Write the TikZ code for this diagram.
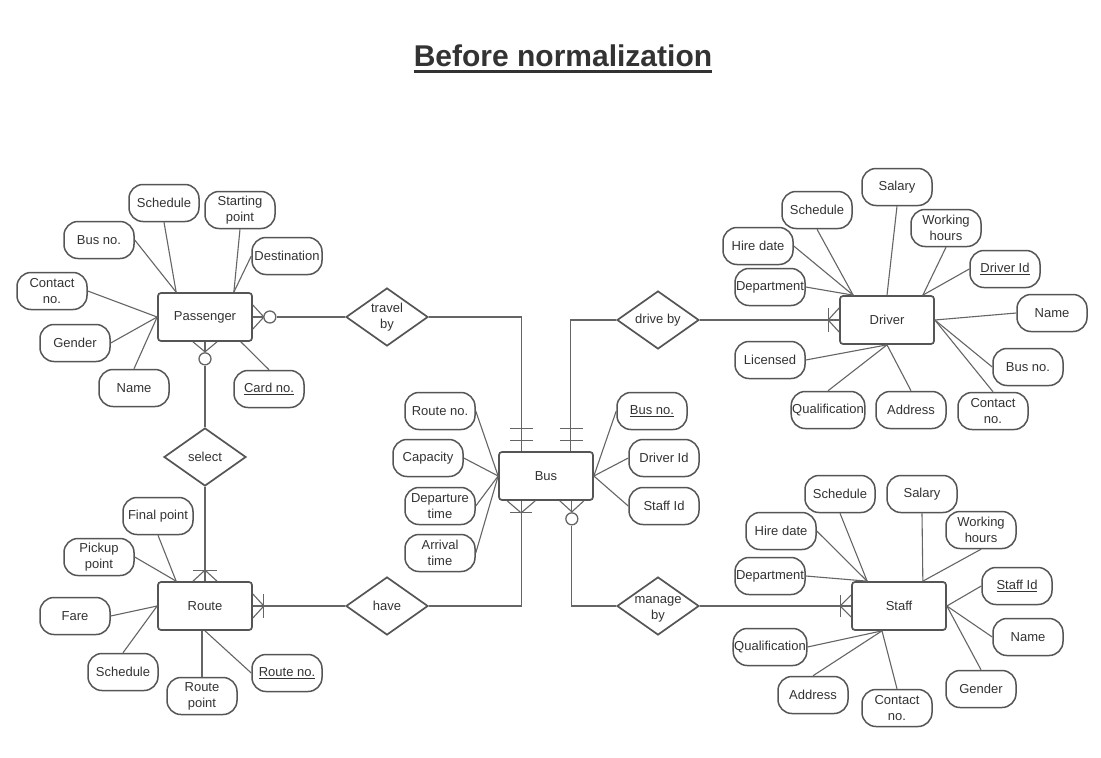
\documentclass[tikz,border=0pt]{standalone}
\usepackage{fontspec}
\setmainfont{Liberation Sans}
\usetikzlibrary{shapes.geometric,calc}
\definecolor{edge}{HTML}{555555}
\definecolor{wire}{HTML}{656565}
\definecolor{ink}{HTML}{333333}
\newcommand\ulbox[3]{\setbox0=\hbox{#3}\leavevmode\rlap{\rule[-#1]{\wd0}{#2}}\box0}
\newcommand\pk[1]{\ulbox{2.8pt}{0.9pt}{#1}}
\newcommand\headline[1]{\ulbox{6pt}{2.4pt}{#1}}
\begin{document}
\begin{tikzpicture}[
        x=1pt, y=-1pt,
        every node/.style={font=\fontsize{13}{16}\selectfont, text=ink},
        entity/.style={rectangle, draw=edge, line width=1.7pt, rounded corners=3pt, minimum width=94pt, minimum height=48pt},
        attrib/.style={rectangle, draw=edge, line width=1.5pt, rounded corners=14pt, minimum width=70pt, minimum height=37pt, inner sep=1pt, align=center},
        rel/.style={diamond, draw=edge, line width=1.7pt, aspect=1.41, minimum width=82pt, minimum height=58pt, inner sep=0pt},
        zero/.style={circle, draw=wire, line width=1.3pt, fill=white, minimum size=12pt, inner sep=0pt},
        link/.style={draw=wire, line width=1.1pt}
    ]
        \path[fill=white] (0,0) rectangle (1101,758);
        \useasboundingbox (0,0) rectangle (1101,758);

        \node[font=\bfseries\fontsize{30}{36}\selectfont] (title) at (563,59) {\headline{Before normalization}};

        % entities
        \node[entity] (pass) at (205,317) {Passenger};
        \node[entity] (route) at (205,606) {Route};
        \node[entity] (bus) at (546,476) {Bus};
        \node[entity] (driver) at (887,320) {Driver};
        \node[entity] (staff) at (899,606) {Staff};

        % relationships
        \node[rel, label={[align=center]center:travel\\by}] (travel) at (387,317) {};
        \node[rel, label={center:select}] (select) at (205,457) {};
        \node[rel, label={center:have}] (have) at (387,606) {};
        \node[rel, label={center:drive by}] (drive) at (658,320) {};
        \node[rel, label={[align=center, yshift=-3pt]center:manage\\by}] (manage) at (658,606) {};

        % passenger attributes
        \node[attrib] (pSched) at (164,203) {Schedule};
        \node[attrib] (pStart) at (240,210) {Starting\\point};
        \node[attrib] (pBus) at (99,240) {Bus no.};
        \node[attrib] (pDest) at (287,256) {Destination};
        \node[attrib] (pContact) at (52,291) {Contact\\no.};
        \node[attrib] (pGender) at (75,343) {Gender};
        \node[attrib] (pName) at (134,388) {Name};
        \node[attrib] (pCard) at (269,389) {\pk{Card no.}};

        % route attributes
        \node[attrib] (rFinal) at (158,516) {Final point};
        \node[attrib] (rPickup) at (99,557) {Pickup\\point};
        \node[attrib] (rFare) at (75,616) {Fare};
        \node[attrib] (rSched) at (123,672) {Schedule};
        \node[attrib] (rPoint) at (202,696) {Route\\point};
        \node[attrib] (rNo) at (287,673) {\pk{Route no.}};

        % bus attributes
        \node[attrib] (bRoute) at (440,411) {Route no.};
        \node[attrib] (bCap) at (428,458) {Capacity};
        \node[attrib] (bDep) at (440,506) {Departure\\time};
        \node[attrib] (bArr) at (440,553) {Arrival\\time};
        \node[attrib] (bNo) at (652,411) {\pk{Bus no.}};
        \node[attrib] (bDriver) at (664,458) {Driver Id};
        \node[attrib] (bStaff) at (664,506) {Staff Id};

        % driver attributes
        \node[attrib] (dSalary) at (897,187) {Salary};
        \node[attrib] (dSched) at (817,210) {Schedule};
        \node[attrib] (dWork) at (946,228) {Working\\hours};
        \node[attrib] (dHire) at (758,246) {Hire date};
        \node[attrib] (dId) at (1005,269) {\pk{Driver Id}};
        \node[attrib] (dDept) at (770,287) {Department};
        \node[attrib] (dName) at (1052,313) {Name};
        \node[attrib] (dLic) at (770,360) {Licensed};
        \node[attrib] (dBus) at (1028,367) {Bus no.};
        \node[attrib] (dQual) at (828,410) {Qualification};
        \node[attrib] (dAddr) at (911,410) {Address};
        \node[attrib] (dContact) at (993,411) {Contact\\no.};

        % staff attributes
        \node[attrib] (sSched) at (840,494) {Schedule};
        \node[attrib] (sSalary) at (922,494) {Salary};
        \node[attrib] (sHire) at (781,531) {Hire date};
        \node[attrib] (sWork) at (981,530) {Working\\hours};
        \node[attrib] (sDept) at (770,576) {Department};
        \node[attrib] (sId) at (1017,586) {\pk{Staff Id}};
        \node[attrib] (sName) at (1028,637) {Name};
        \node[attrib] (sQual) at (770,647) {Qualification};
        \node[attrib] (sGender) at (981,689) {Gender};
        \node[attrib] (sAddr) at (813,695) {Address};
        \node[attrib] (sContact) at (897,708) {Contact\\no.};

        % meeting points on the entities
        \coordinate (pTL) at ($(pass.north west)+(19,0)$);
        \coordinate (pTR) at ($(pass.north east)+(-19,0)$);
        \coordinate (pBR) at ($(pass.south east)+(-12,0)$);
        \coordinate (rTL) at ($(route.north west)+(19,0)$);
        \coordinate (bTL) at ($(bus.north west)+(23,0)$);
        \coordinate (bTR) at ($(bus.north east)+(-23,0)$);
        \coordinate (bBL) at ($(bus.south west)+(23,0)$);
        \coordinate (bBR) at ($(bus.south east)+(-22,0)$);
        \coordinate (dTL) at ($(driver.north west)+(14,0)$);
        \coordinate (dTR) at ($(driver.north east)+(-12,0)$);
        \coordinate (sTL) at ($(staff.north west)+(16,0)$);
        \coordinate (sTR) at ($(staff.north east)+(-24,0)$);
        \coordinate (sB) at ($(staff.south)+(-17,0)$);

        % attribute links
        \draw[link] (pSched.south) -- (pTL);
        \draw[link] (pBus.east) -- (pTL);
        \draw[link] (pStart.south) -- (pTR);
        \draw[link] (pDest.west) -- (pTR);
        \draw[link] (pContact.east) -- (pass.west);
        \draw[link] (pGender.east) -- (pass.west);
        \draw[link] (pName.north) -- (pass.west);
        \draw[link] (pCard.north) -- (pBR);

        \draw[link] (rFinal.south) -- (rTL);
        \draw[link] (rPickup.east) -- (rTL);
        \draw[link] (rFare.east) -- (route.west);
        \draw[link] (rSched.north) -- (route.west);
        \draw[link] (rPoint.north) -- (rPoint |- route.south);
        \draw[link] (rNo.west) -- (route.south);

        \draw[link] (bRoute.east) -- (bus.west);
        \draw[link] (bCap.east) -- (bus.west);
        \draw[link] (bDep.east) -- (bus.west);
        \draw[link] (bArr.east) -- (bus.west);
        \draw[link] (bNo.west) -- (bus.east);
        \draw[link] (bDriver.west) -- (bus.east);
        \draw[link] (bStaff.west) -- (bus.east);

        \draw[link] (dSched.south) -- (dTL);
        \draw[link] (dHire.east) -- (dTL);
        \draw[link] (dDept.east) -- (dTL);
        \draw[link] (dSalary.south) -- (driver.north);
        \draw[link] (dWork.south) -- (dTR);
        \draw[link] (dId.west) -- (dTR);
        \draw[link] (dName.west) -- (driver.east);
        \draw[link] (dBus.west) -- (driver.east);
        \draw[link] (dContact.north) -- (driver.east);
        \draw[link] (dLic.east) -- (driver.south);
        \draw[link] (dQual.north) -- (driver.south);
        \draw[link] (dAddr.north) -- (driver.south);

        \draw[link] (sSched.south) -- (sTL);
        \draw[link] (sHire.east) -- (sTL);
        \draw[link] (sDept.east) -- (sTL);
        \draw[link] (sSalary.south) -- (sTR);
        \draw[link] (sWork.south) -- (sTR);
        \draw[link] (sId.west) -- (staff.east);
        \draw[link] (sName.west) -- (staff.east);
        \draw[link] (sGender.north) -- (staff.east);
        \draw[link] (sQual.east) -- (sB);
        \draw[link] (sAddr.north) -- (sB);
        \draw[link] (sContact.north) -- (sB);

        % passenger - travel by - bus
        \draw[link] ($(pass.east)+(0,-12)$) -- ($(pass.east)+(11,0)$) -- ($(pass.east)+(0,12)$);
        \draw[link] (pass.east) -- ++(11,0);
        \node[zero] (pz1) at ($(pass.east)+(17,0)$) {};
        \draw[link] (pz1) -- (travel);
        \draw[link] (travel) -| (bTL);
        \draw[link] ($(bTL)+(-11,-11)$) -- ++(23,0);
        \draw[link] ($(bTL)+(-11,-23)$) -- ++(23,0);

        % passenger - select - route
        \draw[link] ($(pass.south)+(-12,0)$) -- ($(pass.south)+(0,10)$) -- ($(pass.south)+(12,0)$);
        \draw[link] (pass.south) -- ++(0,10);
        \node[zero] (pz2) at ($(pass.south)+(0,17)$) {};
        \draw[link] (pz2) -- (select);
        \draw[link] (select) -- (route);
        \draw[link] ($(route.north)+(-12,0)$) -- ($(route.north)+(0,-11)$) -- ($(route.north)+(12,0)$);
        \draw[link] ($(route.north)+(-12,-11)$) -- ($(route.north)+(12,-11)$);

        % route - have - bus
        \draw[link] (route) -- (have);
        \draw[link] ($(route.east)+(0,-12)$) -- ($(route.east)+(11,0)$) -- ($(route.east)+(0,12)$);
        \draw[link] ($(route.east)+(11,-12)$) -- ($(route.east)+(11,12)$);
        \draw[link] (have) -| (bBL);
        \draw[link] ($(bBL)+(-14,0)$) -- ($(bBL)+(0,12)$) -- ($(bBL)+(14,0)$);
        \draw[link] ($(bBL)+(-11,12)$) -- ($(bBL)+(11,12)$);

        % bus - drive by - driver
        \draw[link] (drive) -| (bTR);
        \draw[link] ($(bTR)+(-11,-11)$) -- ++(23,0);
        \draw[link] ($(bTR)+(-11,-23)$) -- ++(23,0);
        \draw[link] (drive) -- (driver);
        \draw[link] ($(driver.west)+(0,-12)$) -- ($(driver.west)+(-11,0)$) -- ($(driver.west)+(0,12)$);
        \draw[link] ($(driver.west)+(-11,-12)$) -- ($(driver.west)+(-11,12)$);

        % bus - manage by - staff
        \draw[link] ($(bBR)+(-12,0)$) -- ($(bBR)+(0,11)$) -- ($(bBR)+(12,0)$);
        \draw[link] (bBR) -- ++(0,11);
        \node[zero] (bz) at ($(bBR)+(0,18)$) {};
        \draw[link] (bz) |- (manage);
        \draw[link] (manage) -- (staff);
        \draw[link] ($(staff.west)+(0,-11)$) -- ($(staff.west)+(-11,0)$) -- ($(staff.west)+(0,11)$);
        \draw[link] ($(staff.west)+(-11,-11)$) -- ($(staff.west)+(-11,11)$);
    \end{tikzpicture}
\end{document}
